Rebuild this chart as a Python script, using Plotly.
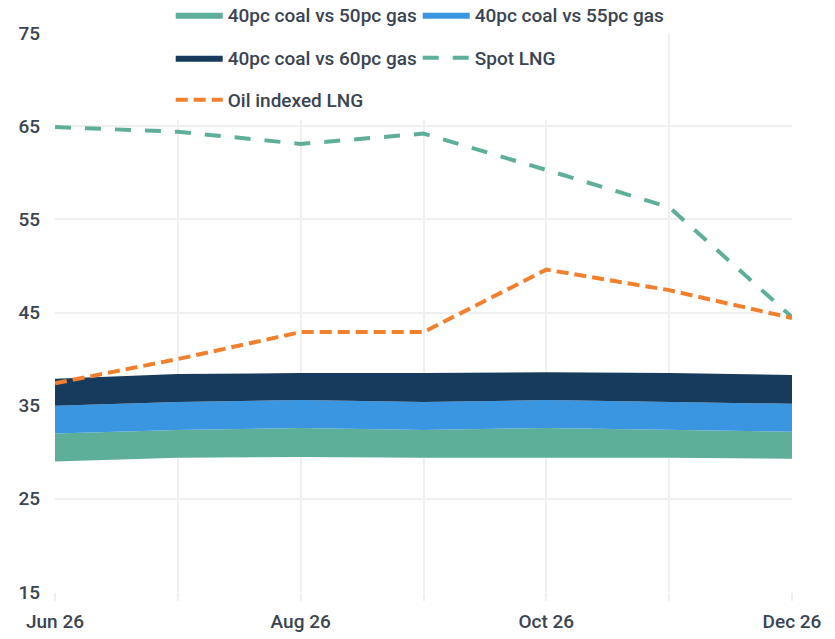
import plotly.graph_objects as go

# Monthly axis
months = ["Jun 26", "Jul 26", "Aug 26", "Sep 26", "Oct 26", "Nov 26", "Dec 26"]
tick_text = ["Jun 26", "", "Aug 26", "", "Oct 26", "", "Dec 26"]
y_ticks = [15, 25, 35, 45, 55, 65, 75]

# Stacked switching bands: an invisible floor plus three band widths
band_floor = [29.0, 29.4, 29.5, 29.4, 29.4, 29.4, 29.3]
coal40_gas50 = [3.0, 3.0, 3.1, 3.0, 3.2, 3.0, 2.9]
coal40_gas55 = [3.0, 3.0, 3.0, 3.0, 3.0, 3.0, 3.0]
coal40_gas60 = [2.9, 3.0, 2.9, 3.1, 3.0, 3.1, 3.1]

# LNG price curves
spot_lng = [64.9, 64.4, 63.1, 64.2, 60.3, 56.3, 44.5]
oil_indexed_lng = [37.4, 40.0, 42.9, 42.9, 49.6, 47.4, 44.4]

GREEN = "#5daf9a"
BLUE = "#3b96e1"
NAVY = "#173b5c"
ORANGE = "#f27f2c"
TEXT = "#3a4452"
GRID = "#efefef"
FONT = "Roboto"
FONT_SIZE = 19

fig = go.Figure()

fig.add_trace(go.Scatter(
    x=months, y=band_floor, stackgroup="bands", mode="lines",
    line=dict(width=0), fillcolor="rgba(0,0,0,0)",
    showlegend=False, hoverinfo="skip",
))
for name, vals, color, leg in [
    ("40pc coal vs 50pc gas", coal40_gas50, GREEN, "legend"),
    ("40pc coal vs 55pc gas", coal40_gas55, BLUE, "legend"),
    ("40pc coal vs 60pc gas", coal40_gas60, NAVY, "legend2"),
]:
    fig.add_trace(go.Scatter(
        x=months, y=vals, stackgroup="bands", mode="lines", name=name,
        line=dict(width=0, color=color), fillcolor=color, legend=leg,
    ))

fig.add_trace(go.Scatter(
    x=months, y=spot_lng, mode="lines", name="Spot LNG",
    line=dict(color=GREEN, width=4, dash="16px,14px"), legend="legend2",
))
fig.add_trace(go.Scatter(
    x=months, y=oil_indexed_lng, mode="lines", name="Oil indexed LNG",
    line=dict(color=ORANGE, width=4, dash="12px,6px"), legend="legend3",
))

legend_style = dict(
    orientation="h", bgcolor="white", borderwidth=0, traceorder="normal",
    font=dict(family=FONT, size=FONT_SIZE, color=TEXT, weight=500),
    entrywidth=185, entrywidthmode="pixels", itemwidth=47,
    x=0.157, xanchor="left", yanchor="middle",
    itemclick=False, itemdoubleclick=False,
)

fig.update_layout(
    width=835, height=639,
    margin=dict(l=55, r=43, t=33, b=47, autoexpand=False),
    paper_bgcolor="white", plot_bgcolor="white",
    font=dict(family=FONT, size=FONT_SIZE, color=TEXT, weight=500),
    legend=dict(legend_style, y=1.0322),
    legend2=dict(legend_style, y=0.9553),
    legend3=dict(legend_style, y=0.8801),
    # white panel behind the legend block
    shapes=[dict(
        type="rect", xref="paper", yref="paper",
        x0=0.156, x1=0.824, y0=0.845, y1=1.06,
        fillcolor="white", line=dict(width=0), layer="above",
    )],
)

fig.update_xaxes(
    type="category", range=[0, 6],
    tickvals=months, ticktext=tick_text,
    showgrid=True, gridcolor=GRID, gridwidth=2,
    ticks="outside", ticklen=8, tickwidth=2, tickcolor=GRID,
    ticklabelstandoff=4, automargin=False,
    showline=False, zeroline=False,
)
fig.update_yaxes(
    range=[15, 75], tickvals=y_ticks,
    showgrid=True, gridcolor=GRID, gridwidth=2,
    ticklabelstandoff=14, automargin=False,
    showline=False, zeroline=False,
)

fig.write_html("out.html")
